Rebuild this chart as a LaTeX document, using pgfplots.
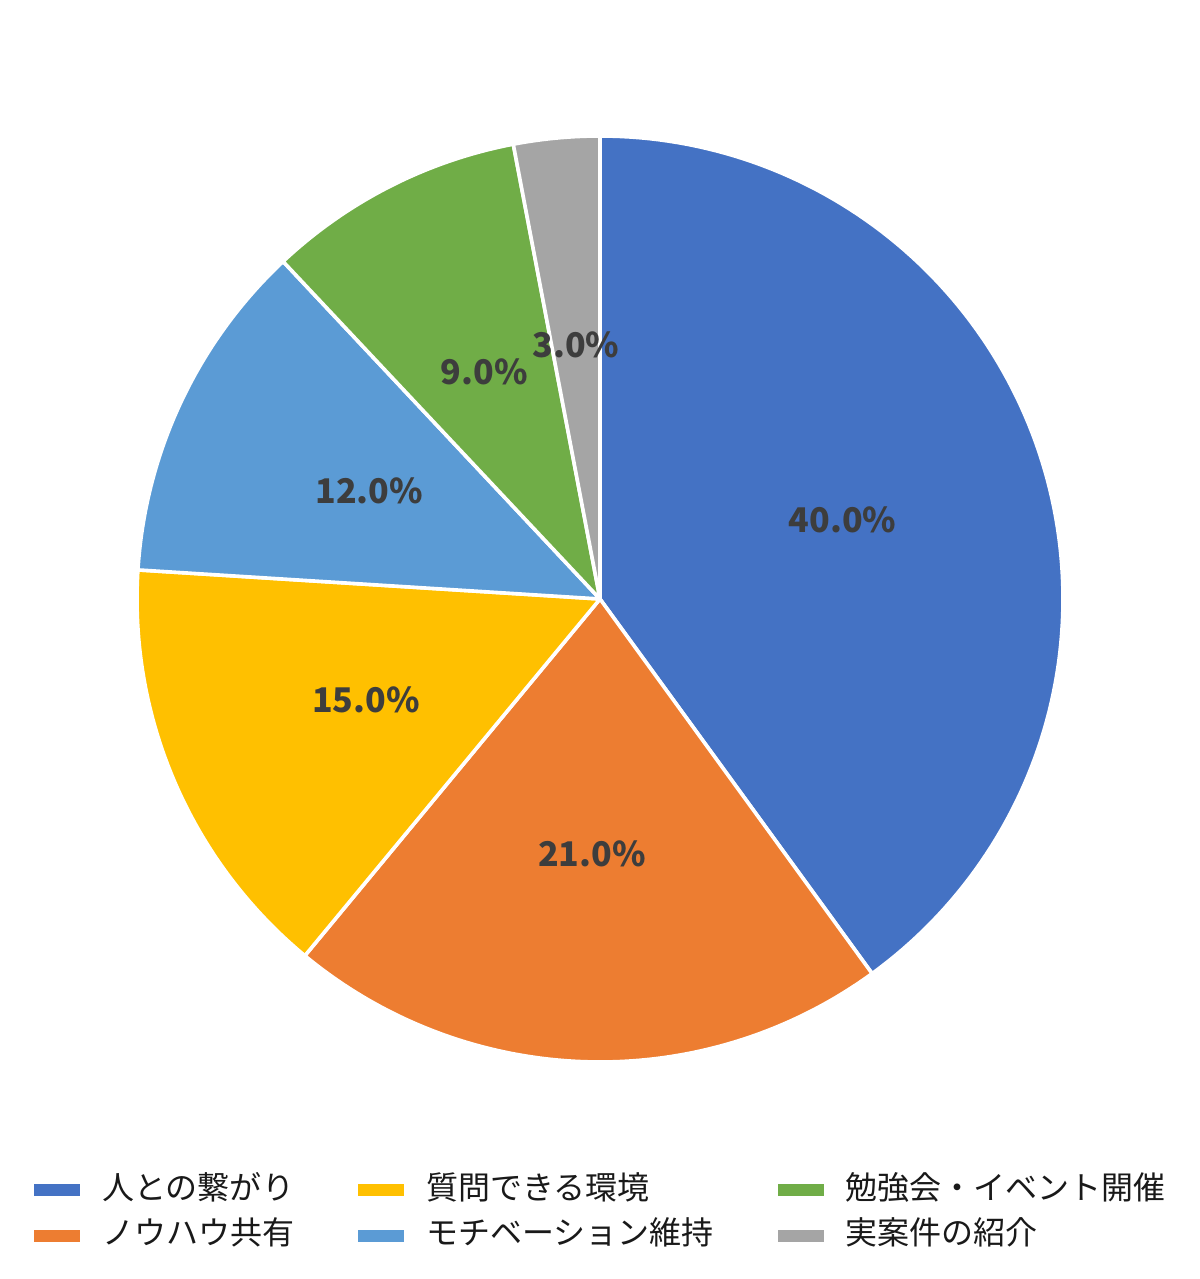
\documentclass[border=0pt]{standalone}
\usepackage{fontspec}
\setmainfont{Noto Sans CJK JP}
\usepackage{pgfplots}
\usepackage{pgfplotstable}
\pgfplotsset{compat=1.18}
\pgfkeys{/pgf/number format/assume math mode=true}
\definecolor{cA}{HTML}{4472C4}
\definecolor{cB}{HTML}{ED7D31}
\definecolor{cC}{HTML}{FFC000}
\definecolor{cD}{HTML}{5B9BD5}
\definecolor{cE}{HTML}{70AD47}
\definecolor{cF}{HTML}{A5A5A5}
\definecolor{lbl}{HTML}{3D3D3D}

\pgfplotstableread{
value
40
21
15
12
9
3
}\piedata

\newcommand\getv[2]{\pgfplotstablegetelem{#1}{value}\of\piedata\edef#2{\pgfplotsretval}}
\getv{0}\vA \getv{1}\vB \getv{2}\vC \getv{3}\vD \getv{4}\vE \getv{5}\vF

\pgfmathsetmacro\sA{90}
\pgfmathsetmacro\eA{\sA-3.6*\vA}
\pgfmathsetmacro\eB{\eA-3.6*\vB}
\pgfmathsetmacro\eC{\eB-3.6*\vC}
\pgfmathsetmacro\eD{\eC-3.6*\vD}
\pgfmathsetmacro\eE{\eD-3.6*\vE}
\pgfmathsetmacro\eF{\eE-3.6*\vF}

\def\cx{600}\def\cy{680}\def\R{463}\def\lr{255}
\newcommand\labpos[3]{% start end name
  \pgfmathsetmacro\tmpm{(#1+#2)/2}%
  \pgfmathsetmacro\tmpx{\cx+\lr*cos(\tmpm)}%
  \pgfmathsetmacro\tmpy{\cy+\lr*sin(\tmpm)}%
  \expandafter\xdef\csname x#3\endcsname{\tmpx}%
  \expandafter\xdef\csname y#3\endcsname{\tmpy}}
\labpos{\sA}{\eA}{A}
\labpos{\eA}{\eB}{B}
\labpos{\eB}{\eC}{C}
\labpos{\eC}{\eD}{D}
\labpos{\eD}{\eE}{E}
\labpos{\eE}{\eF}{F}

\pgfplotsset{
  slice/.style={forget plot, draw=white, line width=1.8bp, line join=round, samples=120, variable=\t},
  legimg/.style={draw=none, legend image code/.code={\fill (0bp,-3bp) rectangle (23bp,3bp);}},
}
\newcommand\pct[1]{\pgfmathprintnumber[fixed,fixed zerofill,precision=1,assume math mode=true]{#1}\%}

\begin{document}
\begin{tikzpicture}
\begin{axis}[
  width=600bp, height=639.5bp, scale only axis,
  xmin=0, xmax=1200, ymin=0, ymax=1279,
  hide axis, clip=false,
  legend columns=3,
  legend cell align=left,
  legend style={at={(axis cs:600,66)}, anchor=center, draw=none, fill=none,
    font=\fontsize{16bp}{19bp}\selectfont, text=black!90,
    nodes={inner sep=0pt, text height=12bp, text depth=3bp},
    row sep=7.8bp,
    /tikz/every odd column/.append style={column sep=11bp},
    /tikz/every even column/.append style={column sep=32bp}},
]
\path (axis cs:0,0) rectangle (axis cs:1200,1279);
\addplot[slice, fill=cA, domain=\eA:\sA] ({\cx+\R*cos(\t)},{\cy+\R*sin(\t)}) -- (axis cs:\cx,\cy) -- cycle;
\addplot[slice, fill=cB, domain=\eB:\eA] ({\cx+\R*cos(\t)},{\cy+\R*sin(\t)}) -- (axis cs:\cx,\cy) -- cycle;
\addplot[slice, fill=cC, domain=\eC:\eB] ({\cx+\R*cos(\t)},{\cy+\R*sin(\t)}) -- (axis cs:\cx,\cy) -- cycle;
\addplot[slice, fill=cD, domain=\eD:\eC] ({\cx+\R*cos(\t)},{\cy+\R*sin(\t)}) -- (axis cs:\cx,\cy) -- cycle;
\addplot[slice, fill=cE, domain=\eE:\eD] ({\cx+\R*cos(\t)},{\cy+\R*sin(\t)}) -- (axis cs:\cx,\cy) -- cycle;
\addplot[slice, fill=cF, domain=\eF:\eE] ({\cx+\R*cos(\t)},{\cy+\R*sin(\t)}) -- (axis cs:\cx,\cy) -- cycle;

\begin{scope}[every node/.style={font=\fontsize{17bp}{20bp}\selectfont\bfseries, text=lbl}]
\node at (axis cs:\xA,\yA) {\pct{\vA}};
\node at (axis cs:\xB,\yB) {\pct{\vB}};
\node at (axis cs:\xC,\yC) {\pct{\vC}};
\node at (axis cs:\xD,\yD) {\pct{\vD}};
\node at (axis cs:\xE,\yE) {\pct{\vE}};
\node at (axis cs:\xF,\yF) {\pct{\vF}};
\end{scope}

\addlegendimage{legimg, fill=cA}\addlegendentry{人との繋がり}
\addlegendimage{legimg, fill=cC}\addlegendentry{質問できる環境}
\addlegendimage{legimg, fill=cE}\addlegendentry{勉強会・イベント開催}
\addlegendimage{legimg, fill=cB}\addlegendentry{ノウハウ共有}
\addlegendimage{legimg, fill=cD}\addlegendentry{モチベーション維持}
\addlegendimage{legimg, fill=cF}\addlegendentry{実案件の紹介}
\end{axis}
\end{tikzpicture}
\end{document}
